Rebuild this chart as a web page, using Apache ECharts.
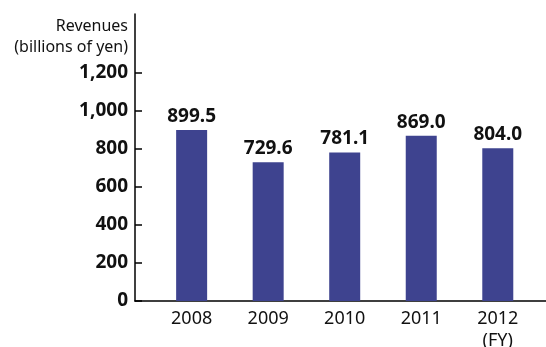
<!DOCTYPE html>
<html>
<head>
<meta charset="utf-8">
<script src="https://cdn.jsdelivr.net/npm/echarts@6/dist/echarts.min.js"></script>
<style>
  html, body { margin: 0; padding: 0; background: #fff; }
  #chart { width: 546px; height: 347px; }
</style>
</head>
<body>
<div id="chart"></div>
<script>
const years = ["2008", "2009", "2010", "2011", "2012\n(FY)"];
const revenues = [899.5, 729.6, 781.1, 869.0, 804.0];
const yTicks = [0, 200, 400, 600, 800, 1000, 1200];

const chart = echarts.init(document.getElementById("chart"));
const font = "'Noto Sans', sans-serif";

chart.setOption({
  animation: false,
  grid: { left: 135, right: 0, top: 14, bottom: 46, outerBoundsMode: "none" },
  xAxis: {
    type: "value",
    min: -0.74,
    max: 4.63,
    splitLine: { show: false },
    axisTick: { show: false },
    axisLine: { lineStyle: { color: "#000", width: 1.5 } },
    axisLabel: {
      customValues: [0, 1, 2, 3, 4],
      formatter: v => years[Math.round(v)],
      color: "#111",
      fontFamily: font,
      fontSize: 18,
      lineHeight: 22,
      margin: 7
    }
  },
  yAxis: {
    type: "value",
    min: 0,
    max: 1510,
    name: "Revenues\n(billions of yen)",
    nameLocation: "end",
    nameGap: -44,
    nameTextStyle: {
      align: "right",
      color: "#111",
      fontFamily: font,
      fontSize: 16,
      lineHeight: 21,
      padding: [0, 7, 0, 0]
    },
    splitLine: { show: false },
    axisLine: { show: true, onZero: false, lineStyle: { color: "#000", width: 1.5 } },
    axisTick: {
      show: true,
      inside: true,
      length: 7,
      customValues: yTicks,
      lineStyle: { color: "#000", width: 1.5 }
    },
    axisLabel: {
      customValues: yTicks,
      formatter: v => v.toLocaleString("en-US"),
      color: "#111",
      fontFamily: font,
      fontWeight: "bold",
      fontSize: 19,
      margin: 7
    }
  },
  series: [{
    type: "bar",
    barWidth: 31,
    itemStyle: { color: "#3e438f" },
    data: revenues.map((v, i) => [i, v]),
    label: {
      show: true,
      position: "top",
      distance: 4,
      formatter: p => p.value[1].toFixed(1),
      color: "#111",
      fontFamily: font,
      fontWeight: "bold",
      fontSize: 19
    }
  }]
});
</script>
</body>
</html>
